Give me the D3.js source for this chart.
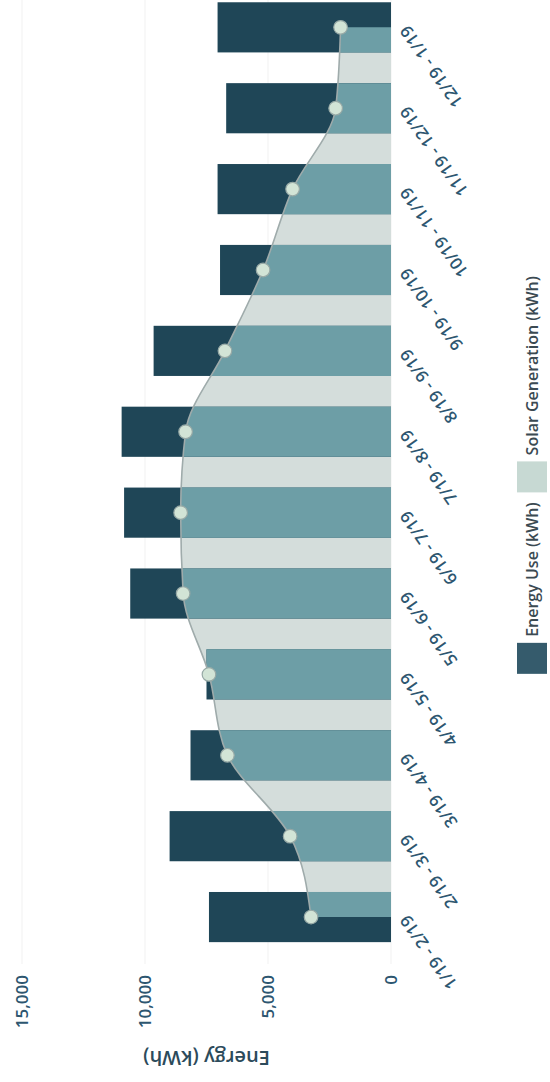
<!DOCTYPE html>
<html>
<head>
<meta charset="utf-8">
<script src="https://cdn.jsdelivr.net/npm/d3@7"></script>
<style>
  html, body { margin: 0; padding: 0; background: #ffffff; }
  svg { display: block; }
  text { font-family: "Open Sans", "Noto Sans", sans-serif; }
</style>
</head>
<body>
<svg id="chart" width="550" height="1082"></svg>
<script>
// Monthly billing periods
const categories = ["1/19 - 2/19", "2/19 - 3/19", "3/19 - 4/19", "4/19 - 5/19",
  "5/19 - 6/19", "6/19 - 7/19", "7/19 - 8/19", "8/19 - 9/19",
  "9/19 - 10/19", "10/19 - 11/19", "11/19 - 12/19", "12/19 - 1/19"];

// Energy use per period (kWh)
const energyUse = [7400, 9000, 8150, 7500, 10600, 10850, 10950, 9650, 6950, 7050, 6700, 7050];

// Solar generation per period (kWh)
const solarGeneration = [3250, 4100, 6650, 7400, 8450, 8550, 8350, 6750, 5200, 4000, 2250, 2050];

const yTicks = [0, 5000, 10000, 15000];
const yTitle = "Energy (kWh)";
const legendLabels = ["Energy Use (kWh)", "Solar Generation (kWh)"];

// The chart is laid out as a regular column chart (W x H) and turned a quarter
// turn counter-clockwise onto the portrait page.
const W = 1082, H = 550;
const svg = d3.select("#chart");
const g = svg.append("g").attr("transform", `translate(0,${W}) rotate(-90)`);

const x = d3.scaleBand().domain(categories).range([115.6, 1104]).paddingInner(0.38).paddingOuter(0.3);
const y = d3.scaleLinear().domain([0, 15000]).range([391, 22]);
const cx = d => x(d) + x.bandwidth() / 2;

const colors = {
  bar: "#1f4657",
  areaLight: "#d4dddb",
  areaOnBar: "#6d9ea6",
  line: "#9fabab",
  dotFill: "#d2e4d6",
  dotStroke: "#97a9a6",
  legendBar: "#355b6c",
  legendArea: "#c7d9d3",
  tick: "#2d5670",
  title: "#2c4b5b",
  legendText: "#3b4a52",
  grid: "#f1f1f1"
};

// Grid lines
g.append("g").selectAll("line").data(yTicks).join("line")
  .attr("x1", 118).attr("x2", W)
  .attr("y1", d => y(d)).attr("y2", d => y(d))
  .attr("stroke", colors.grid).attr("stroke-width", 1);

// Y axis tick labels
g.append("g").selectAll("text").data(yTicks).join("text")
  .attr("x", 107).attr("y", d => y(d)).attr("dy", "0.35em")
  .attr("text-anchor", "end")
  .attr("font-size", 17).attr("font-weight", 600)
  .attr("fill", colors.tick)
  .text(d => d3.format(",")(d));

// Y axis title
g.append("text")
  .attr("transform", `translate(24,${(y(0) + y(15000)) / 2}) rotate(-90)`)
  .attr("text-anchor", "middle").attr("dy", "0.35em")
  .attr("font-size", 20).attr("font-weight", 600)
  .attr("fill", colors.title)
  .text(yTitle);

const solarPts = categories.map((c, i) => ({ c, v: solarGeneration[i] }));
const area = d3.area().x(d => cx(d.c)).y0(y(0)).y1(d => y(d.v)).curve(d3.curveMonotoneX);
const line = d3.line().x(d => cx(d.c)).y(d => y(d.v)).curve(d3.curveMonotoneX);

// Solar area (behind the bars)
g.append("path").datum(solarPts).attr("d", area).attr("fill", colors.areaLight);

// Energy use bars
const barData = categories.map((c, i) => ({ c, v: energyUse[i] }));
g.append("g").selectAll("rect").data(barData).join("rect")
  .attr("x", d => x(d.c)).attr("width", x.bandwidth())
  .attr("y", d => y(d.v)).attr("height", d => y(0) - y(d.v))
  .attr("fill", colors.bar);

// Solar area where it overlaps the bars
const clip = svg.append("defs").append("clipPath").attr("id", "barClip");
clip.selectAll("rect").data(barData).join("rect")
  .attr("x", d => x(d.c)).attr("width", x.bandwidth())
  .attr("y", d => y(d.v)).attr("height", d => y(0) - y(d.v));
g.append("path").datum(solarPts).attr("d", area)
  .attr("fill", colors.areaOnBar).attr("clip-path", "url(#barClip)");

// Solar line and points
g.append("path").datum(solarPts).attr("d", line)
  .attr("fill", "none").attr("stroke", colors.line).attr("stroke-width", 1.6);
g.append("g").selectAll("circle").data(solarPts).join("circle")
  .attr("cx", d => cx(d.c)).attr("cy", d => y(d.v)).attr("r", 6.8)
  .attr("fill", colors.dotFill).attr("stroke", colors.dotStroke).attr("stroke-width", 1.2);

// Category labels
g.append("g").selectAll("text").data(categories).join("text")
  .attr("transform", d => `translate(${cx(d)},404) rotate(-35)`)
  .attr("text-anchor", "end").attr("dy", "0.35em")
  .attr("font-size", 17).attr("font-weight", 600)
  .attr("fill", colors.tick)
  .text(d => d);

// Legend
const legend = g.append("g");
const legendY = 532, boxW = 31, boxH = 30;
const items = [
  { label: legendLabels[0], color: colors.legendBar },
  { label: legendLabels[1], color: colors.legendArea }
];
const parts = items.map(it => {
  const grp = legend.append("g");
  grp.append("rect").attr("x", 0).attr("y", legendY - boxH / 2)
    .attr("width", boxW).attr("height", boxH).attr("fill", it.color);
  const t = grp.append("text").attr("x", boxW + 6).attr("y", legendY).attr("dy", "0.35em")
    .attr("font-size", 16).attr("font-weight", 600).attr("fill", colors.legendText)
    .text(it.label);
  const w = boxW + 6 + t.node().getComputedTextLength();
  return { grp, w };
});
const gap = 10;
const total = parts.reduce((s, p) => s + p.w, 0) + gap * (parts.length - 1);
let cursor = 607 - total / 2;
parts.forEach(p => {
  p.grp.attr("transform", `translate(${cursor},0)`);
  cursor += p.w + gap;
});
</script>
</body>
</html>
